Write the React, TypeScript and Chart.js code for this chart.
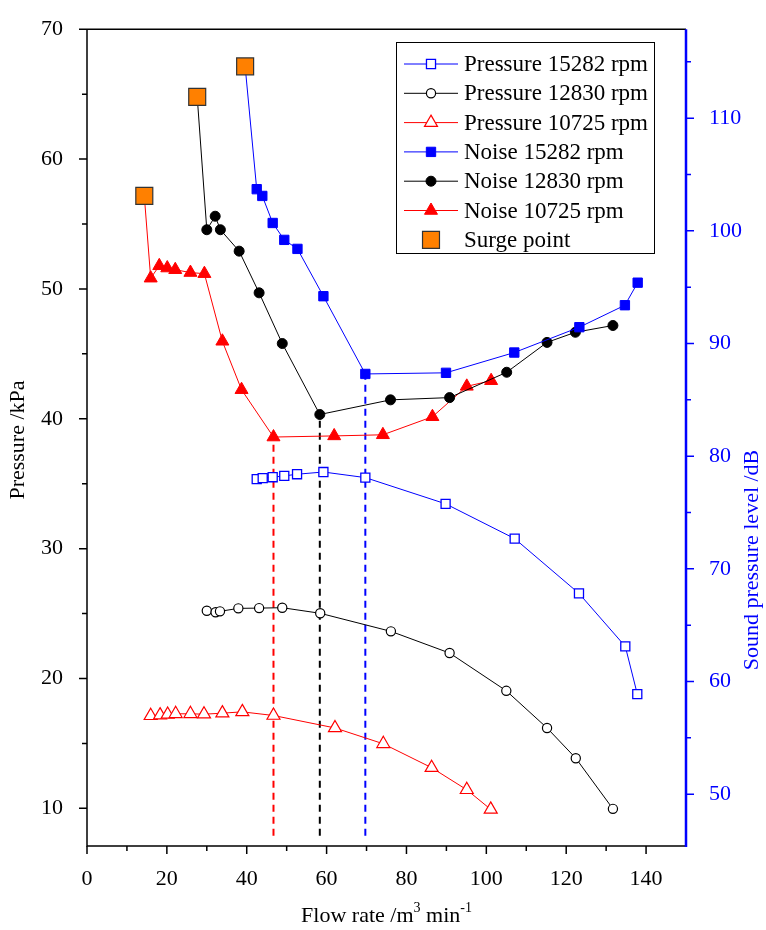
import React, { useEffect, useRef } from 'react';
import { Chart, registerables } from 'chart.js';

Chart.register(...registerables);

const FONT = '"Liberation Serif", "Times New Roman", serif';
const BLUE = '#0000ff';
const RED = '#ff0000';
const BLACK = '#000000';
const ORANGE = '#ff8000';

// ---- Pressure (left axis, kPa) vs flow rate (m3/min) ----
const flowP15282 = [42.5, 44.0, 46.5, 49.4, 52.6, 59.2, 69.7, 89.8, 107.1, 123.2, 134.8, 137.8];
const presP15282 = [35.35, 35.43, 35.5, 35.6, 35.73, 35.9, 35.47, 33.45, 30.77, 26.55, 22.47, 18.8];

const flowP12830 = [30.0, 32.2, 33.3, 37.9, 43.1, 48.9, 58.4, 76.1, 90.8, 105.0, 115.2, 122.4, 131.7];
const presP12830 = [25.22, 25.1, 25.17, 25.4, 25.42, 25.45, 25.02, 23.63, 21.96, 19.05, 16.19, 13.86, 9.96];

const flowP10725 = [15.95, 18.3, 20.2, 22.2, 25.9, 29.3, 33.9, 38.9, 46.7, 62.1, 74.2, 86.3, 95.1, 101.1];
const presP10725 = [17.13, 17.18, 17.23, 17.28, 17.28, 17.25, 17.33, 17.43, 17.15, 16.19, 14.97, 13.13, 11.43, 9.92];

// ---- Noise (right axis, dB) vs flow rate ----
const flowN15282 = [42.5, 43.9, 46.5, 49.4, 52.7, 59.2, 69.7, 89.9, 107.0, 123.3, 134.7, 137.9];
const splN15282 = [103.7, 103.1, 100.7, 99.2, 98.4, 94.2, 87.3, 87.4, 89.2, 91.45, 93.4, 95.4];

const flowN12830 = [30.0, 32.1, 33.4, 38.1, 43.1, 48.9, 58.3, 76.0, 90.8, 105.1, 115.2, 122.3, 131.7];
const splN12830 = [100.1, 101.3, 100.1, 98.2, 94.5, 90.0, 83.7, 85.0, 85.2, 87.45, 90.1, 91.0, 91.6];

const flowN10725 = [15.95, 18.1, 20.1, 22.1, 25.9, 29.4, 33.9, 38.7, 46.7, 61.9, 74.1, 86.5, 95.1, 101.2];
const splN10725 = [95.8, 96.9, 96.7, 96.55, 96.3, 96.2, 90.2, 85.9, 81.7, 81.8, 81.9, 83.5, 86.2, 86.7];

// ---- Surge points (15282, 12830, 10725 rpm) on the noise axis ----
const surgeFlow = [39.6, 27.6, 14.35];
const surgeSPL = [114.6, 111.9, 103.1];

// ---- Vertical dashed markers at the noise minimum (10725, 12830, 15282 rpm) ----
const dashFlow = [46.7, 58.3, 69.7];
const dashTop = [81.7, 83.7, 87.3];
const dashBottom = 46.3;

// ---- Axes ----
const xMin = 0, xMax = 150;
const yMin = 7.1, yMax = 70;
const y2Min = 45.4, y2Max = 117.9;
const xTicks = [0, 20, 40, 60, 80, 100, 120, 140];
const xMinor = [10, 30, 50, 70, 90, 110, 130];
const yTicks = [10, 20, 30, 40, 50, 60, 70];
const yMinor = [15, 25, 35, 45, 55, 65];
const y2Ticks = [50, 60, 70, 80, 90, 100, 110];
const y2Minor = [55, 65, 75, 85, 95, 105, 115];

const yTitle = 'Pressure /kPa';
const y2Title = 'Sound pressure level /dB';

const zip = (xs: number[], ys: number[]) => xs.map((x, i) => ({ x, y: ys[i] }));

function drawMarker(ctx: CanvasRenderingContext2D, style: string, x: number, y: number, r: number, fill: string, stroke: string, lw: number) {
  ctx.save();
  ctx.beginPath();
  if (style === 'rect') {
    const s = Math.SQRT1_2 * r;
    ctx.rect(x - s, y - s, 2 * s, 2 * s);
  } else if (style === 'circle') {
    ctx.arc(x, y, r, 0, Math.PI * 2);
  } else if (style === 'triangle') {
    for (let k = 0; k < 3; k++) {
      const a = k * (2 * Math.PI / 3);
      const px = x + Math.sin(a) * r;
      const py = y - Math.cos(a) * r;
      if (k === 0) ctx.moveTo(px, py); else ctx.lineTo(px, py);
    }
    ctx.closePath();
  }
  ctx.fillStyle = fill;
  ctx.fill();
  if (lw > 0) {
    ctx.lineWidth = lw;
    ctx.strokeStyle = stroke;
    ctx.stroke();
  }
  ctx.restore();
}

const framePlugin = {
  id: 'frame',
  afterDraw(chart: any) {
    const ctx: CanvasRenderingContext2D = chart.ctx;
    const { left, right, top, bottom } = chart.chartArea;
    const sx = chart.scales.x, sy = chart.scales.y, sy2 = chart.scales.y2;
    ctx.save();
    // frame
    ctx.lineCap = 'butt';
    ctx.strokeStyle = BLACK;
    ctx.lineWidth = 1.5;
    ctx.beginPath();
    ctx.moveTo(left, top); ctx.lineTo(right, top);
    ctx.moveTo(left, top); ctx.lineTo(left, bottom + 0.75);
    ctx.moveTo(left - 0.75, bottom); ctx.lineTo(right, bottom);
    ctx.stroke();
    // tick marks
    const tick = (x1: number, y1: number, x2: number, y2: number) => { ctx.moveTo(x1, y1); ctx.lineTo(x2, y2); };
    ctx.beginPath();
    xTicks.forEach(v => { const p = sx.getPixelForValue(v); tick(p, bottom, p, bottom + 8); });
    xMinor.forEach(v => { const p = sx.getPixelForValue(v); tick(p, bottom, p, bottom + 5); });
    yTicks.forEach(v => { const p = sy.getPixelForValue(v); tick(left, p, left - 8, p); });
    yMinor.forEach(v => { const p = sy.getPixelForValue(v); tick(left, p, left - 5, p); });
    ctx.stroke();
    // right axis (blue)
    ctx.strokeStyle = BLUE;
    ctx.lineWidth = 2.5;
    ctx.beginPath();
    ctx.moveTo(right, top); ctx.lineTo(right, bottom + 1);
    ctx.stroke();
    ctx.lineWidth = 1.5;
    ctx.beginPath();
    y2Ticks.forEach(v => { const p = sy2.getPixelForValue(v); tick(right, p, right + 8, p); });
    y2Minor.forEach(v => { const p = sy2.getPixelForValue(v); tick(right, p, right + 5, p); });
    ctx.stroke();

    // x-axis title with superscripts
    ctx.fillStyle = BLACK;
    ctx.textBaseline = 'alphabetic';
    const big = `22px ${FONT}`;
    const small = `14px ${FONT}`;
    const parts: [string, string, number][] = [
      ['Flow rate /m', big, 0],
      ['3', small, -10],
      [' min', big, 0],
      ['-1', small, -10],
    ];
    let total = 0;
    parts.forEach(([t, f]) => { ctx.font = f; total += ctx.measureText(t).width; });
    let cx = (left + right) / 2 - total / 2;
    const baseY = 922;
    parts.forEach(([t, f, dy]) => {
      ctx.font = f;
      ctx.fillText(t, cx, baseY + dy);
      cx += ctx.measureText(t).width;
    });

    // y-axis titles (both read bottom-to-top)
    ctx.textAlign = 'center';
    ctx.textBaseline = 'middle';
    ctx.font = `22px ${FONT}`;
    ctx.save();
    ctx.translate(18, 440);
    ctx.rotate(-Math.PI / 2);
    ctx.fillStyle = BLACK;
    ctx.fillText(yTitle, 0, 0);
    ctx.restore();
    ctx.save();
    ctx.translate(752, 560);
    ctx.rotate(-Math.PI / 2);
    ctx.fillStyle = BLUE;
    ctx.fillText(y2Title, 0, 0);
    ctx.restore();
    ctx.textAlign = 'left';

    // legend
    const bx = 396, by = 42, bw = 258, bh = 211;
    ctx.fillStyle = '#ffffff';
    ctx.fillRect(bx, by, bw, bh);
    ctx.strokeStyle = BLACK;
    ctx.lineWidth = 1;
    ctx.strokeRect(bx + 0.5, by + 0.5, bw, bh);
    const items = chart.data.datasets.filter((d: any) => d.inLegend);
    ctx.font = `23px ${FONT}`;
    ctx.textBaseline = 'middle';
    items.forEach((d: any, i: number) => {
      const yy = by + 22 + i * 29.3;
      if (d.showLine !== false) {
        ctx.strokeStyle = d.borderColor;
        ctx.lineWidth = 1;
        ctx.beginPath();
        ctx.moveTo(404, yy); ctx.lineTo(458, yy);
        ctx.stroke();
      }
      drawMarker(ctx, d.pointStyle, 431, yy, d.legendRadius, d.pointBackgroundColor, d.pointBorderColor, d.pointBorderWidth);
      ctx.fillStyle = BLACK;
      ctx.fillText(d.label, 464, yy + 1);
    });
    ctx.restore();
  },
};

export default function App() {
  const ref = useRef<HTMLCanvasElement | null>(null);
  useEffect(() => {
    if (!ref.current) return;
    const firstHidden = (r: number) => (c: any) => (c.dataIndex === 0 ? 0 : r);
    const datasets: any[] = [
      {
        label: 'Pressure 15282 rpm', inLegend: true, yAxisID: 'y',
        data: zip(flowP15282, presP15282),
        borderColor: BLUE, borderWidth: 1, pointStyle: 'rect', pointRadius: 6.4, legendRadius: 6.4,
        pointBackgroundColor: '#ffffff', pointBorderColor: BLUE, pointBorderWidth: 1.3, order: 3,
      },
      {
        label: 'Pressure 12830 rpm', inLegend: true, yAxisID: 'y',
        data: zip(flowP12830, presP12830),
        borderColor: BLACK, borderWidth: 1, pointStyle: 'circle', pointRadius: 4.6, legendRadius: 4.6,
        pointBackgroundColor: '#ffffff', pointBorderColor: BLACK, pointBorderWidth: 1.2, order: 3,
      },
      {
        label: 'Pressure 10725 rpm', inLegend: true, yAxisID: 'y',
        data: zip(flowP10725, presP10725),
        borderColor: RED, borderWidth: 1, pointStyle: 'triangle', pointRadius: 7.5, legendRadius: 7.5,
        pointBackgroundColor: '#ffffff', pointBorderColor: RED, pointBorderWidth: 1.2, order: 3,
      },
      {
        label: 'Noise 15282 rpm', inLegend: true, yAxisID: 'y2',
        data: [{ x: surgeFlow[0], y: surgeSPL[0] }, ...zip(flowN15282, splN15282)],
        borderColor: BLUE, borderWidth: 1, pointStyle: 'rect', pointRadius: firstHidden(6.6), legendRadius: 6.6,
        pointBackgroundColor: BLUE, pointBorderColor: BLUE, pointBorderWidth: 1, order: 2,
      },
      {
        label: 'Noise 12830 rpm', inLegend: true, yAxisID: 'y2',
        data: [{ x: surgeFlow[1], y: surgeSPL[1] }, ...zip(flowN12830, splN12830)],
        borderColor: BLACK, borderWidth: 1, pointStyle: 'circle', pointRadius: firstHidden(5), legendRadius: 5,
        pointBackgroundColor: BLACK, pointBorderColor: BLACK, pointBorderWidth: 1, order: 2,
      },
      {
        label: 'Noise 10725 rpm', inLegend: true, yAxisID: 'y2',
        data: [{ x: surgeFlow[2], y: surgeSPL[2] }, ...zip(flowN10725, splN10725)],
        borderColor: RED, borderWidth: 1, pointStyle: 'triangle', pointRadius: firstHidden(7.5), legendRadius: 7.5,
        pointBackgroundColor: RED, pointBorderColor: RED, pointBorderWidth: 1, order: 2,
      },
      {
        label: 'Surge point', inLegend: true, yAxisID: 'y2',
        data: zip(surgeFlow, surgeSPL), showLine: false,
        borderColor: '#333333', pointStyle: 'rect', pointRadius: 12, legendRadius: 12,
        pointBackgroundColor: ORANGE, pointBorderColor: '#333333', pointBorderWidth: 1.2, order: -1,
      },
    ];
    const dashColors = [RED, BLACK, BLUE];
    dashFlow.forEach((fx, i) => {
      datasets.push({
        label: 'dash' + i, inLegend: false, yAxisID: 'y2',
        data: [{ x: fx, y: dashBottom }, { x: fx, y: dashTop[i] }],
        borderColor: dashColors[i], borderWidth: 2, borderDash: [7, 5], pointRadius: 0, order: 10,
      });
    });

    const tickFont = { family: FONT, size: 22 };
    const chart = new Chart(ref.current, {
      type: 'line',
      data: { datasets },
      options: {
        responsive: false,
        animation: false,
        devicePixelRatio: 1,
        events: [],
        layout: { padding: { top: 17, left: 0, right: 0, bottom: 0 } },
        plugins: { legend: { display: false }, tooltip: { enabled: false }, title: { display: false } },
        elements: { line: { tension: 0 } },
        scales: {
          x: {
            type: 'linear', position: 'bottom', min: xMin, max: xMax,
            grid: { display: false }, border: { display: false },
            ticks: { font: tickFont, color: BLACK, padding: 12, maxRotation: 0, autoSkip: false },
            afterBuildTicks: (s: any) => { s.ticks = xTicks.map(v => ({ value: v })); },
            afterFit: (s: any) => { s.height = 84; },
          },
          y: {
            type: 'linear', position: 'left', min: yMin, max: yMax,
            grid: { display: false }, border: { display: false },
            ticks: { font: tickFont, color: BLACK, padding: 16, autoSkip: false },
            afterBuildTicks: (s: any) => { s.ticks = yTicks.map(v => ({ value: v })); },
            afterFit: (s: any) => { s.width = 87; },
          },
          y2: {
            type: 'linear', position: 'right', min: y2Min, max: y2Max,
            grid: { display: false }, border: { display: false },
            ticks: { font: tickFont, color: BLUE, padding: 15, autoSkip: false },
            afterBuildTicks: (s: any) => { s.ticks = y2Ticks.map(v => ({ value: v })); },
            afterFit: (s: any) => { s.width = 80; },
          },
        },
      } as any,
      plugins: [framePlugin],
    });
    return () => chart.destroy();
  }, []);

  return (
    <div style={{ position: 'absolute', left: 0, top: 0, width: 766, height: 930, background: '#ffffff' }}>
      <canvas ref={ref} width={766} height={930} style={{ width: 766, height: 930, display: 'block' }} />
    </div>
  );
}
